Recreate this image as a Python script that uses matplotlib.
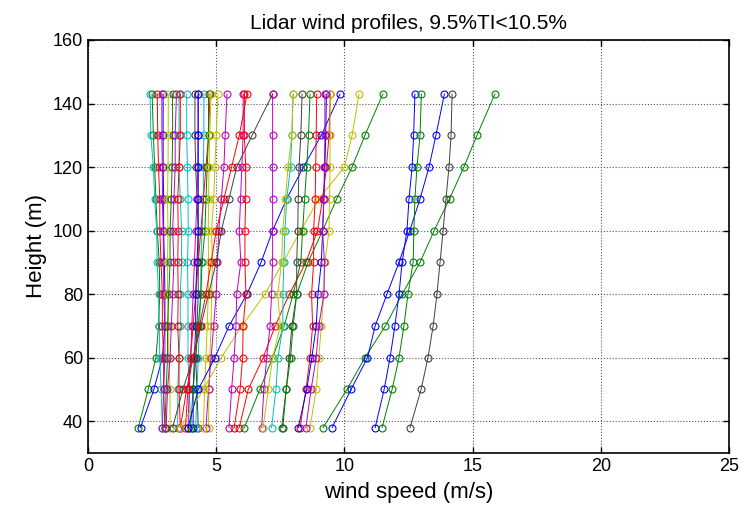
import matplotlib
matplotlib.use("Agg")
import matplotlib.pyplot as plt

plt.rcParams['font.family'] = ['Liberation Sans', 'DejaVu Sans']

heights = [38, 50, 60, 70, 80, 90, 100, 110, 120, 130, 143]

# MATLAB-style colours
C = {'b': (0, 0, 1), 'g': (0, 0.5, 0), 'r': (1, 0, 0), 'c': (0, 0.75, 0.75),
     'm': (0.75, 0, 0.75), 'y': (0.75, 0.75, 0), 'k': (0.25, 0.25, 0.25)}

# ---- left dense group ----
p01 = [1.96, 2.35, 2.65, 2.75, 2.80, 2.78, 2.70, 2.65, 2.60, 2.55, 2.50]
p02 = [2.05, 2.57, 2.90, 3.00, 3.00, 2.98, 2.95, 2.95, 2.93, 2.93, 2.93]
p03 = [2.90, 2.85, 2.80, 2.78, 2.75, 2.70, 2.68, 2.60, 2.55, 2.45, 2.42]
p04 = [3.00, 2.95, 2.95, 2.90, 2.90, 2.85, 2.80, 2.80, 2.75, 2.72, 2.70]
p05 = [2.90, 2.95, 3.00, 3.00, 2.95, 2.95, 2.93, 2.90, 2.90, 2.88, 2.88]
p06 = [3.20, 3.20, 3.15, 3.15, 3.10, 3.10, 3.12, 3.10, 3.12, 3.13, 3.13]
p07 = [3.00, 3.05, 3.10, 3.10, 3.15, 3.20, 3.20, 3.25, 3.28, 3.30, 3.30]
p08 = [3.05, 3.10, 3.20, 3.25, 3.30, 3.35, 3.30, 3.35, 3.40, 3.40, 3.45]
p09 = [3.50, 3.50, 3.55, 3.60, 3.60, 3.65, 3.65, 3.60, 3.55, 3.55, 3.55]
p10 = [3.60, 3.55, 3.55, 3.50, 3.52, 3.50, 3.52, 3.50, 3.55, 3.60, 3.60]
p11 = [4.00, 3.95, 3.90, 3.90, 3.90, 3.88, 3.91, 3.90, 3.88, 3.85, 3.85]
p12 = [4.30, 4.25, 4.20, 4.25, 4.30, 4.30, 4.30, 4.25, 4.20, 4.17, 4.17]
p13 = [3.90, 3.95, 4.00, 4.05, 4.10, 4.15, 4.20, 4.25, 4.28, 4.29, 4.29]
p14 = [4.20, 4.25, 4.30, 4.35, 4.40, 4.40, 4.45, 4.50, 4.50, 4.52, 4.52]
p15 = [3.80, 3.90, 4.00, 4.10, 4.20, 4.30, 4.40, 4.50, 4.60, 4.70, 4.76]
p16 = [4.70, 4.72, 4.75, 4.80, 4.82, 4.85, 4.82, 4.90, 4.95, 5.00, 5.07]
p17 = [4.60, 4.70, 4.80, 4.90, 5.00, 5.05, 5.10, 5.20, 5.30, 5.35, 5.42]
p18 = [4.10, 4.10, 4.15, 4.20, 4.20, 4.25, 4.30, 4.30, 4.30, 4.30, 4.30]
p19 = [4.00, 4.10, 4.20, 4.30, 4.40, 4.45, 4.56, 4.60, 4.65, 4.70, 4.70]
p20 = [4.50, 4.55, 4.60, 4.65, 4.69, 4.70, 4.69, 4.70, 4.72, 4.75, 4.80]
p21 = [3.30, 3.70, 4.10, 4.40, 4.70, 5.00, 5.20, 5.50, 5.80, 6.40, 7.20]
p22 = [3.60, 3.85, 4.10, 4.35, 4.60, 4.80, 5.00, 5.30, 5.60, 5.90, 6.20]
p23 = [3.60, 4.50, 5.20, 6.00, 6.90, 7.60, 8.30, 9.00, 10.00, 10.30, 10.57]
p24 = [3.90, 4.30, 4.95, 5.50, 6.20, 6.75, 7.20, 7.75, 8.40, 9.10, 9.83]
# ---- middle group ----
p25 = [5.50, 5.60, 5.70, 5.77, 5.80, 5.96, 5.90, 5.95, 6.00, 6.05, 6.05]
p26 = [5.70, 5.93, 6.03, 6.05, 6.16, 6.12, 6.12, 6.15, 6.15, 6.10, 6.10]
p27 = [5.90, 6.25, 6.83, 7.30, 7.85, 8.50, 8.95, 9.15, 9.30, 9.40, 9.45]
p28 = [6.10, 6.70, 7.20, 7.65, 8.00, 8.30, 8.37, 8.45, 8.53, 8.60, 8.66]
p29 = [6.77, 6.86, 6.97, 7.10, 7.16, 7.20, 7.20, 7.20, 7.20, 7.20, 7.20]
p30 = [7.16, 7.33, 7.41, 7.60, 7.60, 7.64, 7.68, 7.75, 7.90, 7.95, 8.00]
p31 = [6.83, 7.03, 7.20, 7.50, 7.40, 7.55, 7.60, 7.70, 7.80, 7.95, 8.00]
p32 = [7.60, 7.73, 7.85, 7.95, 8.14, 8.14, 8.18, 8.20, 8.23, 8.30, 8.35]
p33 = [7.55, 7.73, 7.90, 8.00, 8.14, 8.58, 9.15, 9.70, 10.30, 10.80, 11.50]
p34 = [8.27, 8.50, 8.66, 8.76, 8.72, 8.80, 8.80, 8.86, 8.88, 8.90, 8.92]
p35 = [8.20, 8.53, 8.73, 8.90, 8.97, 9.10, 9.15, 9.20, 9.24, 9.27, 9.30]
p36 = [8.66, 8.90, 9.00, 9.10, 9.20, 9.24, 9.40, 9.42, 9.44, 9.44, 9.44]
p37 = [8.50, 8.70, 8.90, 9.00, 9.20, 9.22, 9.15, 9.20, 9.22, 9.24, 9.24]
# ---- right group ----
p38 = [9.17, 10.10, 10.80, 11.60, 12.25, 12.95, 13.50, 14.10, 14.66, 15.17, 15.87]
p39 = [9.52, 10.26, 10.90, 11.20, 11.66, 12.13, 12.55, 12.95, 13.30, 13.57, 13.90]
p40 = [11.20, 11.55, 11.78, 11.97, 12.13, 12.25, 12.44, 12.52, 12.64, 12.70, 12.75]
p41 = [11.47, 11.86, 12.13, 12.32, 12.48, 12.68, 12.71, 12.75, 12.83, 12.95, 13.00]
p42 = [12.56, 12.99, 13.26, 13.46, 13.61, 13.73, 13.85, 13.96, 14.08, 14.16, 14.20]

profiles = [p01, p02, p03, p04, p05, p06, p07, p08, p09, p10, p11, p12, p13, p14,
            p15, p16, p17, p18, p19, p20, p21, p22, p23, p24, p25, p26, p27, p28,
            p29, p30, p31, p32, p33, p34, p35, p36, p37, p38, p39, p40, p41, p42]
colors = ['g', 'b', 'c', 'r', 'm', 'y', 'g', 'm', 'c', 'r', 'c', 'k', 'm', 'c',
          'r', 'y', 'm', 'b', 'g', 'y', 'k', 'r', 'y', 'b', 'm', 'r', 'r', 'g',
          'm', 'c', 'y', 'k', 'g', 'r', 'b', 'y', 'm', 'g', 'b', 'b', 'g', 'k']

fig = plt.figure(figsize=(7.44, 5.15), dpi=100)
ax = fig.add_axes([88/744, 1-453/515, (729-88)/744, (453-40)/515])

for prof, col in zip(profiles, colors):
    ax.plot(prof, heights, '-o', color=C[col], lw=0.7, markersize=5,
            markerfacecolor='none', markeredgewidth=0.8)

ax.set_xlim(0, 25)
ax.set_ylim(30, 160)
ax.set_xticks([0, 5, 10, 15, 20, 25])
ax.set_yticks([40, 60, 80, 100, 120, 140, 160])
ax.grid(True, linestyle=':', color='0.35', linewidth=0.8)
ax.tick_params(direction='in', top=True, right=True, labelsize=13, length=4, width=1)
for s in ax.spines.values():
    s.set_linewidth(1.2)
ax.set_xlabel('wind speed (m/s)', fontsize=16, labelpad=5)
ax.set_ylabel('Height (m)', fontsize=16, labelpad=4)
ax.set_title('Lidar wind profiles, 9.5%TI<10.5%', fontsize=15, pad=8)

fig.savefig('out.png', dpi=100)
